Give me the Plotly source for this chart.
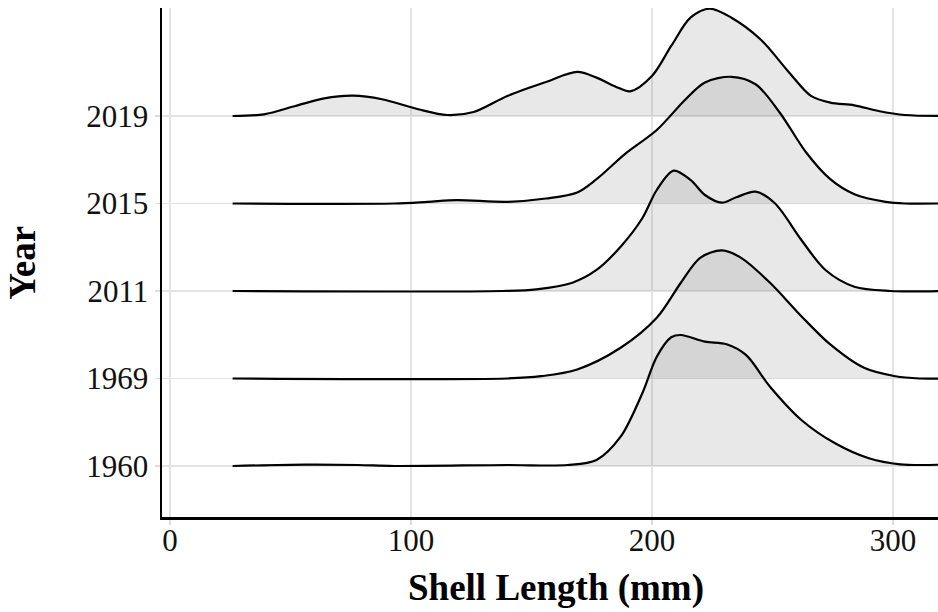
import plotly.graph_objects as go

# Years (bottom to top) and their ridge densities (height relative to row spacing)
years = ["1960", "1969", "2011", "2015", "2019"]

x_1960 = [26, 56, 78, 93, 140, 165, 177, 187, 196, 202, 208, 212, 222, 231, 239, 249, 262, 276, 290, 303, 320]
d_1960 = [0, .015, .011, 0, .011, .011, .069, .335, .831, 1.249, 1.471, 1.497, 1.421, 1.391, 1.269, .906, .526, .259, .088, .019, .015]

x_1969 = [26, 140, 154, 169, 187, 202, 212, 220, 229, 237, 249, 262, 274, 288, 301, 311, 320]
d_1969 = [0, 0, .026, .103, .351, .694, 1.094, 1.379, 1.463, 1.379, 1.094, .712, .389, .122, .026, 0, 0]

x_2011 = [26, 138, 152, 167, 177, 187, 196, 202, 209, 216, 222, 229, 235, 243, 251, 262, 272, 284, 299, 320]
d_2011 = [0, 0, .019, .095, .24, .506, .831, 1.154, 1.375, 1.269, 1.097, 1.009, 1.071, 1.135, 1.002, .583, .24, .049, 0, 0]

x_2015 = [26, 93, 107, 119, 140, 156, 169, 177, 189, 202, 214, 222, 233, 243, 253, 264, 274, 284, 297, 305, 320]
d_2015 = [0, 0, .019, .038, .019, .057, .126, .278, .57, .84, 1.192, 1.383, 1.448, 1.363, 1.04, .583, .278, .106, .019, 0, 0]

x_2019 = [26, 39, 52, 64, 76, 88, 103, 115, 126, 140, 156, 169, 177, 185, 191, 200, 208, 216, 224, 233, 245, 257, 266, 274, 284, 294, 305, 320]
d_2019 = [0, .019, .114, .202, .232, .191, .077, .011, .046, .229, .389, .503, .438, .335, .282, .457, .8, 1.123, 1.226, 1.123, .877, .495, .229, .152, .122, .057, .011, 0]

ridges = {
    "1960": (x_1960, d_1960),
    "1969": (x_1969, d_1969),
    "2011": (x_2011, d_2011),
    "2015": (x_2015, d_2015),
    "2019": (x_2019, d_2019),
}

x_ticks = [0, 100, 200, 300]

FONT = "Liberation Serif, Times New Roman, serif"
fig = go.Figure()

# draw from top ridge to bottom so lower ridges are on top
for i in reversed(range(len(years))):
    yr = years[i]
    base = i + 1
    xs, ds = ridges[yr]
    fig.add_trace(go.Scatter(
        x=[xs[0], xs[-1]], y=[base, base], mode="lines",
        line=dict(width=0, color="rgba(0,0,0,0)"),
        hoverinfo="skip", showlegend=False))
    fig.add_trace(go.Scatter(
        x=xs, y=[base + d for d in ds], mode="lines",
        line=dict(color="black", width=2.2, shape="spline", smoothing=0.9),
        fill="tonexty", fillcolor="rgba(128,128,128,0.18)",
        hoverinfo="skip", showlegend=False))

fig.update_layout(
    width=938, height=612,
    margin=dict(l=162, r=0, t=8, b=95),
    plot_bgcolor="white", paper_bgcolor="white",
    font=dict(family=FONT, color="black"),
    hovermode=False,
    xaxis=dict(
        range=[-3.3, 318.7], tickvals=x_ticks, ticktext=[str(v) for v in x_ticks],
        showgrid=True, gridcolor="#e3e3e3", gridwidth=1.5, automargin=False,
        zeroline=False, showline=True, linecolor="black", linewidth=2.5,
        ticks="outside", ticklen=5, tickcolor="#dcdcdc", tickwidth=1.5,
        ticklabelstandoff=-11,
        tickfont=dict(size=31, family=FONT, color="#111"),
    ),
    yaxis=dict(
        range=[0.417, 6.234], tickvals=[1, 2, 3, 4, 5], ticktext=years,
        showgrid=True, gridcolor="#e3e3e3", gridwidth=1.5, automargin=False,
        zeroline=False, showline=True, linecolor="black", linewidth=2.5,
        ticks="outside", ticklen=5, tickcolor="#dcdcdc", tickwidth=1.5,
        tickfont=dict(size=31, family=FONT, color="#111"),
    ),
    annotations=[
        dict(text="<b>Shell Length (mm)</b>", xref="paper", yref="paper",
             x=0.508, y=-0.139, xanchor="center", yanchor="middle", showarrow=False,
             font=dict(size=37, family=FONT, color="black")),
        dict(text="<b>Year</b>", xref="paper", yref="paper", textangle=-90,
             x=-0.180, y=0.5, xanchor="center", yanchor="middle", showarrow=False,
             font=dict(size=37, family=FONT, color="black")),
    ],
)

fig.write_html(
    "out.html",
    config={"displayModeBar": False, "staticPlot": True},
    post_script="document.body.style.margin='0';document.body.style.overflow='hidden';",
)
